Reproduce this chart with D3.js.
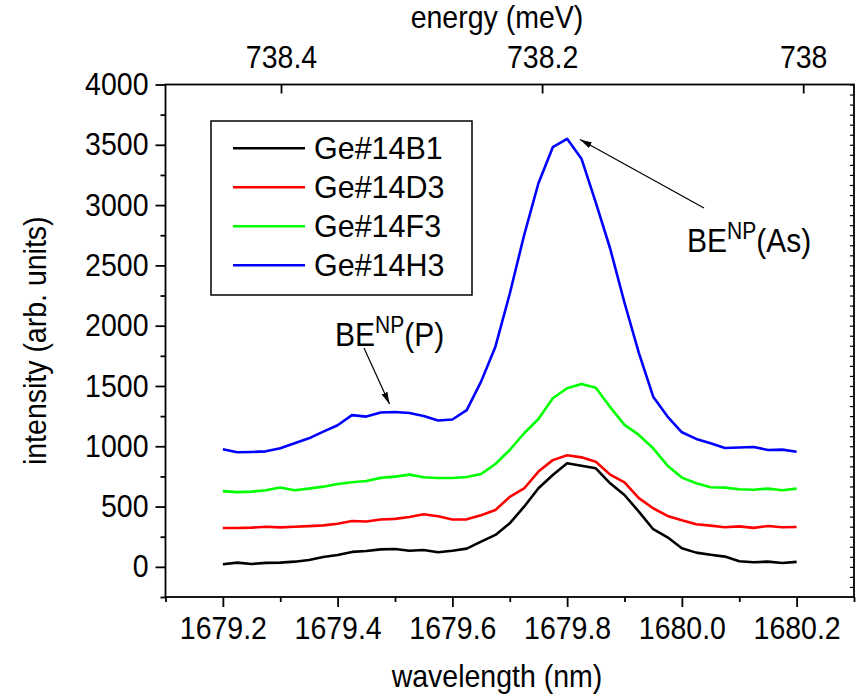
<!DOCTYPE html>
<html>
<head>
<meta charset="utf-8">
<script src="https://cdn.jsdelivr.net/npm/d3@7"></script>
<style>
  html, body { margin: 0; padding: 0; background: #fff; }
  svg { display: block; }
  text { font-family: "Liberation Sans", Arial, Helvetica, sans-serif; fill: #000; }
</style>
</head>
<body>
<svg id="chart" width="860" height="697"></svg>
<script>
// ---------------- data ----------------
const wavelength = [
  1679.200, 1679.225, 1679.250, 1679.275, 1679.300, 1679.325, 1679.350, 1679.375,
  1679.400, 1679.425, 1679.450, 1679.475, 1679.500, 1679.525, 1679.550, 1679.575,
  1679.600, 1679.625, 1679.650, 1679.675, 1679.700, 1679.725, 1679.750, 1679.775,
  1679.800, 1679.825, 1679.850, 1679.875, 1679.900, 1679.925, 1679.950, 1679.975,
  1680.000, 1680.025, 1680.050, 1680.075, 1680.100, 1680.125, 1680.150, 1680.175,
  1680.200
];
const ge14B1 = [
  21, 35, 24, 33, 35, 43, 57, 82,
  99, 124, 132, 145, 148, 134, 140, 121,
  134, 151, 209, 265, 361, 499, 652, 762,
  859, 839, 817, 693, 596, 458, 312, 245,
  154, 118, 101, 85, 46, 38, 43, 32,
  41
];
const ge14D3 = [
  322, 322, 325, 332, 327, 332, 338, 344,
  358, 380, 376, 393, 398, 414, 436, 420,
  393, 394, 428, 472, 580, 650, 790, 885,
  925, 908, 872, 765, 700, 570, 486, 422,
  386, 353, 342, 328, 336, 323, 339, 328,
  331
];
const ge14F3 = [
  628, 620, 624, 635, 658, 635, 649, 665,
  687, 701, 712, 738, 748, 765, 743, 737,
  737, 745, 770, 853, 969, 1108, 1226, 1398,
  1481, 1517, 1486, 1325, 1177, 1094, 983, 839,
  740, 693, 660, 657, 643, 640, 649, 635,
  649
];
const ge14H3 = [
  975, 950, 953, 958, 983, 1025, 1066, 1121,
  1174, 1258, 1246, 1280, 1284, 1276, 1251, 1214,
  1222, 1300, 1536, 1826, 2265, 2750, 3181, 3480,
  3550, 3385, 3020, 2640, 2190, 1775, 1411, 1246,
  1116, 1061, 1025, 986, 990, 994, 969, 972,
  955
];
const seriesNames = ["Ge#14B1", "Ge#14D3", "Ge#14F3", "Ge#14H3"];
const seriesColors = ["#000000", "#ff0000", "#00ff00", "#0000ff"];
const seriesValues = [ge14B1, ge14D3, ge14F3, ge14H3];

const xMajorTicks = [1679.2, 1679.4, 1679.6, 1679.8, 1680.0, 1680.2];
const xMinorTicks = [1679.1, 1679.3, 1679.5, 1679.7, 1679.9, 1680.1, 1680.3];
const yMajorTicks = [0, 500, 1000, 1500, 2000, 2500, 3000, 3500, 4000];
const yMinorTicks = [-250, 250, 750, 1250, 1750, 2250, 2750, 3250, 3750];
const energyTicks = [738.4, 738.2, 738];
const energyTickLabels = ["738.4", "738.2", "738"];
const HC = 1239996; // meV·nm conversion used for the top axis

// ---------------- layout ----------------
const svg = d3.select("#chart");
const L = 165.5, R = 854, T = 84.5, B = 597;
const x = d3.scaleLinear().domain([1679.1, 1680.3]).range([L, R]);
const y = d3.scaleLinear().domain([-250, 4000]).range([B, T]);
const xE = d3.scaleLinear().domain([HC / 1679.1, HC / 1680.3]).range([L, R]);

const SX = 0.91;              // horizontal condensing of the lettering
const tickFont = 28.5 / SX;

function condense(sel) {
  sel.each(function () {
    const t = d3.select(this);
    const xa = +t.attr("x") || 0;
    t.attr("transform", `translate(${xa},0) scale(${SX},1) translate(${-xa},0)`);
  });
}

function styleAxis(g) {
  g.select(".domain").remove();
  g.selectAll(".tick line").attr("stroke", "#000").attr("stroke-width", 1.8);
  g.selectAll("text").attr("font-size", tickFont)
    .attr("font-family", "Liberation Sans, Arial, sans-serif").attr("fill", "#000")
    .call(condense);
}

// bottom axis
svg.append("g").attr("transform", `translate(0,${B})`)
  .call(d3.axisBottom(x).tickValues(xMajorTicks).tickSize(10).tickPadding(10).tickFormat(d3.format(".1f")))
  .call(styleAxis);
svg.append("g").attr("transform", `translate(0,${B})`)
  .call(d3.axisBottom(x).tickValues(xMinorTicks).tickSize(5).tickFormat(""))
  .call(styleAxis);

// left axis
svg.append("g").attr("transform", `translate(${L},0)`)
  .call(d3.axisLeft(y).tickValues(yMajorTicks).tickSize(10).tickPadding(7).tickFormat(d3.format("d")))
  .call(styleAxis);
svg.append("g").attr("transform", `translate(${L},0)`)
  .call(d3.axisLeft(y).tickValues(yMinorTicks).tickSize(5).tickFormat(""))
  .call(styleAxis);

// right axis (inward small ticks)
svg.append("g").attr("transform", `translate(${R},0)`)
  .call(d3.axisRight(y).tickValues(d3.range(-250 + 250 / 3, 4000, 250 / 3)).tickSize(-4).tickFormat(""))
  .call(g => { styleAxis(g); g.selectAll(".tick line").attr("stroke-width", 1.2); });

// top axis (energy)
svg.append("g").attr("transform", `translate(0,${T})`)
  .call(d3.axisTop(xE).tickValues(energyTicks).tickSize(-9).tickPadding(17)
    .tickFormat((d, i) => energyTickLabels[i]))
  .call(styleAxis);

// frame
svg.append("rect").attr("x", L).attr("y", T).attr("width", R - L).attr("height", B - T)
  .attr("fill", "none").attr("stroke", "#000").attr("stroke-width", 1.8);

// axis titles
svg.append("text").attr("x", 497).attr("y", 687).attr("text-anchor", "middle")
  .attr("font-size", tickFont).text("wavelength (nm)").call(condense);
svg.append("text").attr("x", 497).attr("y", 28).attr("text-anchor", "middle")
  .attr("font-size", tickFont).text("energy (meV)").call(condense);
svg.append("text").attr("transform", `translate(46,${(T + B) / 2}) rotate(-90) scale(${SX},1)`)
  .attr("text-anchor", "middle").attr("font-size", tickFont).text("intensity (arb. units)");

// curves
const line = d3.line().x((d, i) => x(wavelength[i])).y(d => y(d));
seriesValues.forEach((vals, k) => {
  svg.append("path").datum(vals).attr("d", line)
    .attr("fill", "none").attr("stroke", seriesColors[k]).attr("stroke-width", 2.6)
    .attr("stroke-linejoin", "round");
});

// legend
const leg = svg.append("g");
leg.append("rect").attr("x", 211).attr("y", 121).attr("width", 261).attr("height", 174)
  .attr("fill", "#fff").attr("stroke", "#000").attr("stroke-width", 1.5);
seriesNames.forEach((name, k) => {
  const ly = 148.3 + k * 39;
  leg.append("line").attr("x1", 233).attr("x2", 305).attr("y1", ly).attr("y2", ly)
    .attr("stroke", seriesColors[k]).attr("stroke-width", 2.6);
  leg.append("text").attr("x", 314).attr("y", ly + 11).attr("font-size", 30.5 / 0.96).text(name)
    .each(function () {
      d3.select(this).attr("transform", `translate(314,0) scale(0.96,1) translate(-314,0)`);
    });
});

// annotations
const defs = svg.append("defs");
defs.append("marker").attr("id", "arrow").attr("viewBox", "0 0 12 8")
  .attr("refX", 12).attr("refY", 4).attr("markerWidth", 12).attr("markerHeight", 8)
  .attr("markerUnits", "userSpaceOnUse").attr("orient", "auto")
  .append("path").attr("d", "M0,0.8 L12,4 L0,7.2 Z").attr("fill", "#000");

svg.append("line").attr("x1", 704).attr("y1", 208).attr("x2", 580).attr("y2", 139.5)
  .attr("stroke", "#000").attr("stroke-width", 1.2).attr("marker-end", "url(#arrow)");
svg.append("line").attr("x1", 364).attr("y1", 348).attr("x2", 389.5).attr("y2", 404)
  .attr("stroke", "#000").attr("stroke-width", 1.2).attr("marker-end", "url(#arrow)");

function beLabel(px, py, species) {
  const t = svg.append("text").attr("x", px).attr("y", py).attr("font-size", 30 / SX)
    .attr("transform", `translate(${px},0) scale(${SX},1) translate(${-px},0)`);
  t.append("tspan").text("BE");
  t.append("tspan").attr("dy", -13).attr("font-size", 21 / SX).text("NP");
  t.append("tspan").attr("dy", 13).attr("font-size", 30 / SX).text("(" + species + ")");
}
beLabel(687, 252, "As");
beLabel(335, 346, "P");
</script>
</body>
</html>
